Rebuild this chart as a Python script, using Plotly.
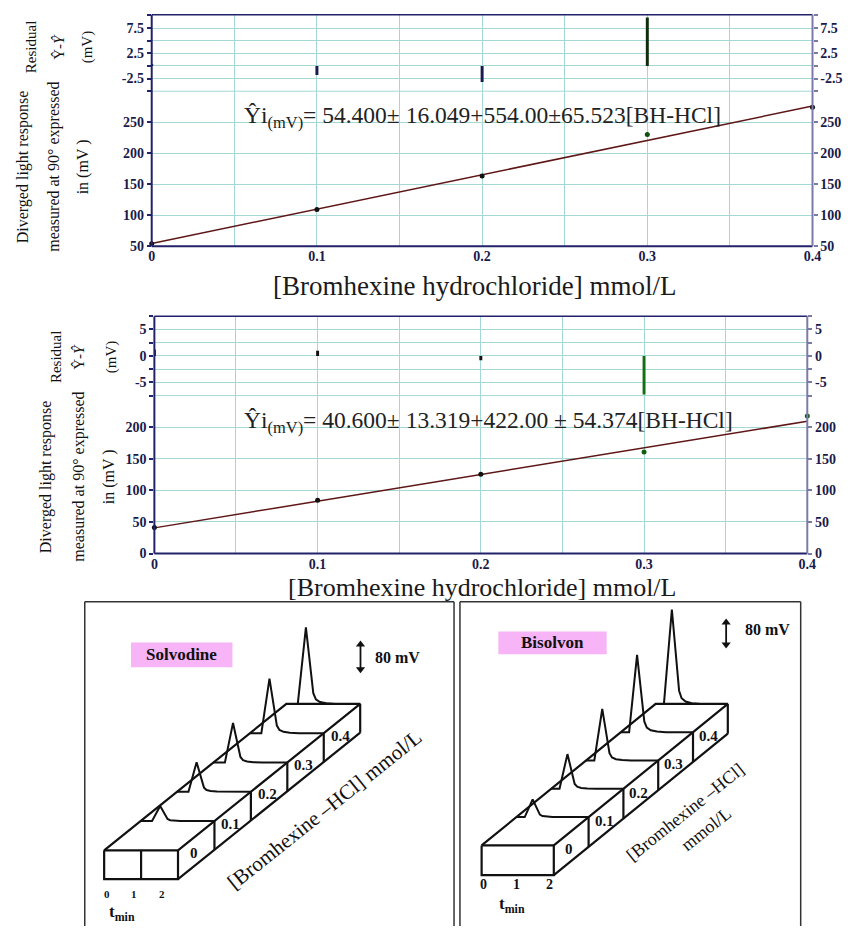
import plotly.graph_objects as go

# ---------------- data ----------------
conc = [0.0, 0.1, 0.2, 0.3, 0.4]
conc_ticktext = ["0", "0.1", "0.2", "0.3", "0.4"]
conc_minor_step = 0.05

resp_solv = [54.0, 109.0, 163.4, 230.0, 274.3]
resid_solv = [0.4, -1.8, -3.2, 9.6, None]
fit_solv = (54.400, 554.00)

resp_bis = [41.0, 84.4, 125.5, 160.7, 217.5]
resid_bis = [1.2, 1.0, -0.8, -7.3, None]
fit_bis = (40.600, 422.00)

res_ticks_top = [-2.5, 2.5, 7.5]
res_text_top = ["-2.5", "2.5", "7.5"]
main_ticks_top = [50, 100, 150, 200, 250]
main_text_top = ["50", "100", "150", "200", "250"]
res_ticks_mid = [-5, 0, 5]
res_text_mid = ["-5", "0", "5"]
main_ticks_mid = [0, 50, 100, 150, 200]
main_text_mid = ["0", "50", "100", "150", "200"]
res_minor_step = 2.5
main_minor_step = 50

peak_solv = [39, 77, 103, 142, 199]   # peak heights, mV
peak_bis = [51, 100, 149, 223, 272]   # peak heights, mV
scale_mv = 80
time_ticks = ["0", "1", "2"]
conc_labels = ["0", "0.1", "0.2", "0.3", "0.4"]

eq_solv = "Ŷi<sub>(mV)</sub>= 54.400± 16.049+554.00±65.523[BH-HCl]"
eq_bis = "Ŷi<sub>(mV)</sub>= 40.600± 13.319+422.00 ± 54.374[BH-HCl]"

# ---------------- style ----------------
W, H = 854, 934
SERIF = "Liberation Serif, Times New Roman, serif"
NAVY = "#22226a"
LAV = "#7c7aa8"
GRID = "#a3d8d4"
FIT = "#5e1616"
TICKC = "#1a1a4a"
TICKF = dict(family=SERIF, size=14, color=TICKC, weight="bold")


def bold(lst):
    return [f"<b>{t}</b>" for t in lst]


def px(x):
    return x / W


def py(y):
    return 1 - y / H


fig = go.Figure()

# ---------------- calibration panels ----------------
panels = [
    dict(xa="x", yr="y", ym="y2", yr2="y3", ym2="y4", resp=resp_solv, resid=resid_solv, fit=fit_solv,
         dots=["#111", "#111", "#111", "#0f4f0f", "#111"],
         bars=["#1a1a50", "#1a1a50", "#1a1a50", "#0d2d0d", "#1a1a50"]),
    dict(xa="x2", yr="y5", ym="y6", yr2="y7", ym2="y8", resp=resp_bis, resid=resid_bis, fit=fit_bis,
         dots=["#111", "#111", "#111", "#0f5f0f", "#0f5f0f"],
         bars=["#111", "#111", "#111", "#127012", "#111"]),
]
for p in panels:
    fig.add_trace(go.Bar(x=conc, y=p["resid"], width=0.0018, marker=dict(color=p["bars"], line=dict(width=0)),
                         xaxis=p["xa"], yaxis=p["yr"], showlegend=False, hoverinfo="skip"))
    a, b = p["fit"]
    xs = [conc[0], conc[-1]]
    fig.add_trace(go.Scatter(x=xs, y=[a + b * v for v in xs], mode="lines", line=dict(color=FIT, width=1.5),
                             xaxis=p["xa"], yaxis=p["ym"], showlegend=False, hoverinfo="skip"))
    fig.add_trace(go.Scatter(x=conc, y=p["resp"], mode="markers", marker=dict(color=p["dots"], size=5),
                             cliponaxis=False, xaxis=p["xa"], yaxis=p["ym"], showlegend=False))
    # invisible traces to activate right-side axes
    fig.add_trace(go.Scatter(x=[0.2], y=[0], mode="markers", marker=dict(opacity=0), xaxis=p["xa"], yaxis=p["yr2"],
                             showlegend=False, hoverinfo="skip"))
    fig.add_trace(go.Scatter(x=[0.2], y=[100], mode="markers", marker=dict(opacity=0), xaxis=p["xa"], yaxis=p["ym2"],
                             showlegend=False, hoverinfo="skip"))


def xax(dom, anchor):
    return dict(domain=dom, anchor=anchor, range=[0, 0.4], tickvals=conc, ticktext=bold(conc_ticktext),
                showgrid=True, gridcolor=GRID, gridwidth=1, zeroline=False, showline=False, ticks="",
                minor=dict(tick0=0, dtick=conc_minor_step, showgrid=True, gridcolor=GRID, gridwidth=1, ticks=""),
                tickfont=TICKF, fixedrange=True)


def yax(dom, anchor, rng, tv, tt, step, side="left", overlay=None):
    tc = NAVY if side == "left" else LAV
    d = dict(domain=dom, anchor=anchor, range=rng, tickvals=tv, ticktext=bold(tt), zeroline=False, showline=False,
             ticks="outside", ticklen=4, tickwidth=1.5, tickcolor=tc,
             tickfont=TICKF, side=side, fixedrange=True)
    minor = dict(tick0=0, dtick=step, ticks="outside", ticklen=4, tickwidth=1.5, tickcolor=tc)
    if overlay:
        d["overlaying"] = overlay
        d["showgrid"] = False
        minor["showgrid"] = False
    else:
        d["showgrid"] = True
        d["gridcolor"] = GRID
        d["gridwidth"] = 1
        minor.update(showgrid=True, gridcolor=GRID, gridwidth=1)
    d["minor"] = minor
    return d


T_TOP, T_SPLIT, T_BOT, T_L, T_R = 15, 92, 248.3, 150, 821
M_TOP, M_SPLIT, M_BOT, M_L, M_R = 319, 399, 558.3, 152.7, 815.7

layout_axes = dict(
    xaxis=xax([px(T_L), px(T_R)], "y2"),
    yaxis=yax([py(T_SPLIT), py(T_TOP)], "x", [-5, 10.1], res_ticks_top, res_text_top, res_minor_step),
    yaxis2=yax([py(T_BOT), py(T_SPLIT)], "x", [50, 300], main_ticks_top, main_text_top, main_minor_step),
    yaxis3=yax([py(T_SPLIT), py(T_TOP)], "x", [-5, 10.1], res_ticks_top, res_text_top, res_minor_step,
               "right", "y"),
    yaxis4=yax([py(T_BOT), py(T_SPLIT)], "x", [50, 300], main_ticks_top, main_text_top, main_minor_step,
               "right", "y2"),
    xaxis2=xax([px(M_L), px(M_R)], "y6"),
    yaxis5=yax([py(M_SPLIT), py(M_TOP)], "x2", [-7.5, 7.5], res_ticks_mid, res_text_mid, res_minor_step),
    yaxis6=yax([py(M_BOT), py(M_SPLIT)], "x2", [0, 250], main_ticks_mid, main_text_mid, main_minor_step),
    yaxis7=yax([py(M_SPLIT), py(M_TOP)], "x2", [-7.5, 7.5], res_ticks_mid, res_text_mid, res_minor_step,
               "right", "y5"),
    yaxis8=yax([py(M_BOT), py(M_SPLIT)], "x2", [0, 250], main_ticks_mid, main_text_mid, main_minor_step,
               "right", "y6"),
    xaxis3=dict(domain=[0, 1], anchor="y9", range=[0, W], visible=False, fixedrange=True),
    yaxis9=dict(domain=[0, py(600)], anchor="x3", range=[H, 600], visible=False, fixedrange=True),
)

shapes = []
annos = []


def pline(x0, y0, x1, y1, color, width):
    shapes.append(dict(type="line", xref="paper", yref="paper", x0=px(x0), y0=py(y0), x1=px(x1), y1=py(y1),
                       line=dict(color=color, width=width)))


for (tp, sp, bt, lf, rt) in [(T_TOP, T_SPLIT, T_BOT, T_L, T_R), (M_TOP, M_SPLIT, M_BOT, M_L, M_R)]:
    pline(lf, sp, rt, sp, GRID, 1)
    pline(lf, tp, rt, tp, NAVY, 1.5)
    pline(lf, bt, rt, bt, NAVY, 2)
    pline(lf, tp, lf, bt, NAVY, 2)
    pline(rt, tp, rt, bt, LAV, 2)


def pann(text, x, y, size, angle=0, xanchor="center", color="#111"):
    annos.append(dict(text=text, xref="paper", yref="paper", x=px(x), y=py(y), showarrow=False,
                      textangle=angle, xanchor=xanchor, yanchor="middle",
                      font=dict(family=SERIF, size=size, color=color)))


# residual axis titles
for (xs, yc) in [((27, 55, 85), 47), ((53, 76, 110), 360)]:
    pann("Residual", xs[0], yc, 15, -90)
    pann("Ŷ-<i>Ŷ</i>", xs[1], yc, 15, -90)
    pann("(mV)", xs[2], yc, 15, -90)
# main axis titles
for (xs, yc) in [((19, 50, 80), 168), ((43, 76, 107), 481)]:
    pann("Diverged light response", xs[0], yc, 16, -90)
    pann("measured at 90° expressed", xs[1], yc, 16, -90)
    pann("in (mV )", xs[2], yc, 16, -90)
# equations
pann(eq_solv, 242, 118, 23.5, xanchor="left", color="#222")
pann(eq_bis, 242, 426, 23.5, xanchor="left", color="#222")
# x titles
pann("[Bromhexine hydrochloride] mmol/L", 478, 288, 27, color="#1a1a1a")
pann("[Bromhexine hydrochloride] mmol/L", 485, 593, 26, color="#1a1a1a")

# ---------------- 3D chromatogram schematics ----------------
profile_t = [-0.22, 0.0, 0.2, 0.27, 0.38, 0.55, 0.8]
profile_f = [0.0, 1.0, 0.14, 0.06, 0.025, 0.008, 0.0]


def dann(text, x, y, size, bold_=True, angle=0, xanchor="center"):
    t = f"<b>{text}</b>" if bold_ else text
    annos.append(dict(text=t, xref="x3", yref="y9", x=x, y=y, showarrow=False, textangle=angle,
                      xanchor=xanchor, yanchor="middle",
                      font=dict(family=SERIF, size=size, color="#111")))


def draw_schematic(FL, FT, fw, fh, vx, vy, split_front, peaks, ppm, t_apex, tick_x0, tick_step, tick_y,
                   tick_size, tmin_xy):
    X, Y = [], []

    def seg(pts):
        for (a, b) in pts:
            X.append(a)
            Y.append(b)
        X.append(None)
        Y.append(None)

    FR, FB = FL + fw, FT + fh
    seg([(FL, FT), (FR, FT), (FR, FB), (FL, FB), (FL, FT)])
    if split_front:
        seg([(FL + fw / 2, FT), (FL + fw / 2, FB)])
    seg([(FL, FT), (FL + vx, FT + vy), (FR + vx, FT + vy)])
    seg([(FR, FT), (FR + vx, FT + vy), (FR + vx, FB + vy)])
    seg([(FR, FB), (FR + vx, FB + vy)])
    n = len(peaks)
    for k in range(1, n):
        f = k / n
        seg([(FR + f * vx, FT + f * vy), (FR + f * vx, FB + f * vy)])
    fig.add_trace(go.Scatter(x=X, y=Y, mode="lines", line=dict(color="#111", width=2.2), xaxis="x3", yaxis="y9",
                             showlegend=False, hoverinfo="skip"))
    # chromatograms
    PX, PY = [], []
    for k, h in enumerate(peaks):
        f = (k + 1) / n
        x0, y0 = FL + f * vx, FT + f * vy
        ts = [0.0] + [t_apex + t for t in profile_t] + [2.0]
        fs = [0.0] + profile_f + [0.0]
        for t, fr in zip(ts, fs):
            PX.append(x0 + t / 2 * fw)
            PY.append(y0 - fr * h * ppm)
        PX.append(None)
        PY.append(None)
    fig.add_trace(go.Scatter(x=PX, y=PY, mode="lines", line=dict(color="#111", width=2),
                             xaxis="x3", yaxis="y9", showlegend=False, hoverinfo="skip"))
    # section labels
    for k, lab in enumerate(conc_labels):
        fc = (k + 0.5) / n
        dann(lab, FR + fc * vx - 2, FT + fc * vy + fh / 2 + 3, 15)
    # time ticks
    for i, lab in enumerate(time_ticks):
        dann(lab, tick_x0 + i * tick_step, tick_y, tick_size)
    dann("t<sub>min</sub>", tmin_xy[0], tmin_xy[1], 17)


ppm_l = 31 / scale_mv
ppm_r = 28 / scale_mv
draw_schematic(101.7, 857.7, 75, 29, 185, -147.7, True, peak_solv, ppm_l, 0.53,
               105, 27.5, 901.7, 11, (120, 921))
draw_schematic(485, 852.7, 73.3, 30, 176.7, -142.7, False, peak_bis, ppm_r, 0.45,
               487, 33.7, 891.7, 14, (516, 913))

# rotated axis labels
dann("[Bromhexine –HCl] mmol/L", 325, 817, 21, bold_=False, angle=-38.6)
dann("[Bromhexine –HCl]", 692, 819, 18, bold_=False, angle=-38.6)
dann("mmol/L", 713, 836, 18, bold_=False, angle=-38.6)

# product labels
for (x0, x1, y0, y1, name) in [(129, 232, 648, 673, "Solvodine"), (502, 612, 637, 660, "Bisolvon")]:
    shapes.append(dict(type="rect", xref="x3", yref="y9", x0=x0, x1=x1, y0=y0, y1=y1,
                       fillcolor="#f7b4f6", line=dict(width=0), layer="below"))
    dann(name, (x0 + x1) / 2, (y0 + y1) / 2, 17)

# scale bars (double-headed arrows) drawn as a line with triangle heads
for (ax_x, ytop, ppm, lx, ly) in [(362, 647, ppm_l, 400, 663), (733.3, 625, ppm_r, 775, 635)]:
    ybot = ytop + scale_mv * ppm
    fig.add_trace(go.Scatter(x=[ax_x, ax_x], y=[ytop + 3, ybot - 3], mode="lines",
                             line=dict(color="#111", width=1.8), xaxis="x3", yaxis="y9",
                             showlegend=False, hoverinfo="skip"))
    fig.add_trace(go.Scatter(x=[ax_x, ax_x], y=[ytop + 3, ybot - 3], mode="markers",
                             marker=dict(symbol=["triangle-up", "triangle-down"], size=8, color="#111"),
                             xaxis="x3", yaxis="y9", showlegend=False, hoverinfo="skip"))
    dann(f"{scale_mv} mV", lx, ly, 16)

# frames around schematics
for (l, r) in [(82, 457), (463, 809)]:
    for (x0, y0, x1, y1) in [(l, 607, r, 607), (l, 607, l, 934), (r, 607, r, 934)]:
        shapes.append(dict(type="line", xref="x3", yref="y9", x0=x0, y0=y0, x1=x1, y1=y1,
                           line=dict(color="#333", width=1.5)))

fig.update_layout(
    width=W, height=H, margin=dict(l=0, r=0, t=0, b=0),
    paper_bgcolor="white", plot_bgcolor="rgba(0,0,0,0)",
    barmode="overlay", showlegend=False,
    shapes=shapes, annotations=annos, **layout_axes,
)

fig.write_html("out.html")
